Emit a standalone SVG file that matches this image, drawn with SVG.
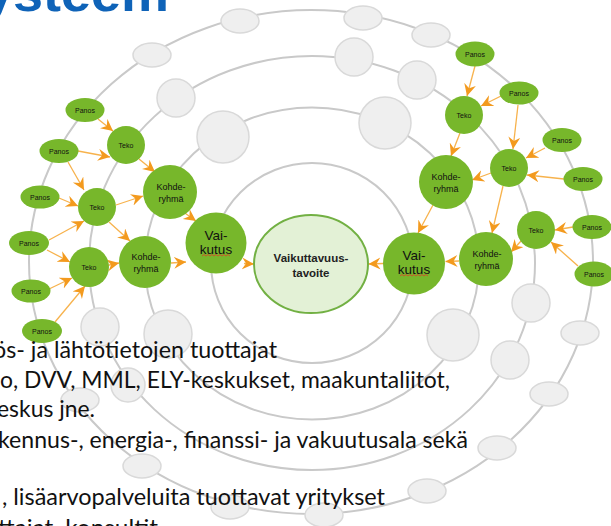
<svg xmlns="http://www.w3.org/2000/svg" width="611" height="526" viewBox="0 0 611 526">
  <defs>
    <style>
      .ring { fill: none; stroke: #c9c9c9; stroke-width: 2; }
      .slot { fill: #efefef; stroke: #d9d9d9; stroke-width: 1.5; }
      .node { fill: #77b72b; }
      .goal { fill: #e3f1d6; stroke: #72b043; stroke-width: 2; }
      .lbl { font-family: "Liberation Sans", Arial, sans-serif; fill: #111; text-anchor: middle; }
      .s7 { font-size: 7px; }
      .s9 { font-size: 9px; }
      .s13 { font-size: 13.5px; }
      .goal-lbl { font-family: "Liberation Sans", Arial, sans-serif; font-weight: bold; font-size: 11.5px; fill: #222; text-anchor: middle; }
      .link { fill: none; stroke: #f7b24c; stroke-width: 1.3; marker-end: url(#chev); }
      .squiggle { fill: none; stroke: #e23a2a; stroke-width: 0.8; }
      .body { font-family: Lato, "Liberation Sans", sans-serif; font-size: 24px; fill: #111; }
      .title { font-family: "Liberation Sans", Arial, sans-serif; font-weight: bold; font-size: 52px; fill: #0f63b8; }
    </style>
    <marker id="chev" markerUnits="userSpaceOnUse" markerWidth="13" markerHeight="13" refX="12" refY="6" orient="auto">
      <path d="M0,0 L12,6 L0,12 L4,6 Z" fill="#f39a1e"/>
    </marker>
  </defs>

  <rect width="611" height="526" fill="#ffffff"/>

  <!-- heading, clipped by the top edge -->
  <text class="title" x="-17" y="11" textLength="186" lengthAdjust="spacingAndGlyphs">ysteem</text>

  <!-- concentric orbits -->
  <g id="orbits">
    <ellipse class="ring" cx="312" cy="263" rx="101" ry="100"/>
    <ellipse class="ring" cx="312" cy="263.5" rx="167" ry="156"/>
    <ellipse class="ring" cx="312" cy="263" rx="223" ry="207"/>
    <ellipse class="ring" cx="311" cy="262" rx="282" ry="252"/>
  </g>

  <!-- empty slots on the orbits -->
  <g id="slots">
    <ellipse class="slot" cx="152" cy="55" rx="19" ry="12"/>
    <ellipse class="slot" cx="240" cy="21" rx="19" ry="12"/>
    <ellipse class="slot" cx="363" cy="18" rx="19" ry="12"/>
    <ellipse class="slot" cx="431" cy="35" rx="19" ry="12"/>
    <ellipse class="slot" cx="580" cy="333" rx="19" ry="12"/>
    <ellipse class="slot" cx="549" cy="394" rx="19" ry="12"/>
    <ellipse class="slot" cx="497" cy="448" rx="19" ry="12"/>
    <ellipse class="slot" cx="427" cy="491" rx="19" ry="12"/>
    <ellipse class="slot" cx="324" cy="515" rx="19" ry="12"/>
    <ellipse class="slot" cx="230" cy="507" rx="19" ry="12"/>
    <ellipse class="slot" cx="142" cy="466" rx="19" ry="12"/>
    <ellipse class="slot" cx="80" cy="400" rx="19" ry="12"/>

    <circle class="slot" cx="176" cy="98" r="19"/>
    <circle class="slot" cx="354" cy="57" r="19"/>
    <circle class="slot" cx="417" cy="80" r="19"/>
    <circle class="slot" cx="531" cy="303" r="19"/>
    <circle class="slot" cx="510" cy="360" r="19"/>
    <circle class="slot" cx="100" cy="327" r="19"/>
    <circle class="slot" cx="128" cy="385" r="17"/>

    <circle class="slot" cx="223" cy="137" r="26"/>
    <circle class="slot" cx="385" cy="123" r="26"/>
    <circle class="slot" cx="168" cy="334" r="24"/>
    <circle class="slot" cx="453" cy="335" r="26"/>
  </g>

  <!-- connectors -->
  <g id="connectors">
    <!-- left cluster -->
    <line class="link" x1="98" y1="119" x2="113" y2="131"/>
    <line class="link" x1="78" y1="151" x2="110" y2="157"/>
    <line class="link" x1="68" y1="162" x2="84" y2="190"/>
    <line class="link" x1="59" y1="198" x2="78" y2="206"/>
    <line class="link" x1="49" y1="240" x2="84" y2="221"/>
    <line class="link" x1="47" y1="250" x2="70" y2="262"/>
    <line class="link" x1="49" y1="289" x2="72" y2="278"/>
    <line class="link" x1="55" y1="322" x2="85" y2="286"/>
    <line class="link" x1="139" y1="159" x2="155" y2="172"/>
    <line class="link" x1="116" y1="205" x2="143" y2="196"/>
    <line class="link" x1="109" y1="222" x2="130" y2="241"/>
    <line class="link" x1="107" y1="265.5" x2="119" y2="263"/>
    <line class="link" x1="182" y1="211" x2="196" y2="221"/>
    <line class="link" x1="171" y1="263" x2="186" y2="262"/>
    <line class="link" x1="244" y1="263.5" x2="254" y2="264"/>
    <!-- right cluster -->
    <line class="link" x1="475" y1="66" x2="467" y2="96"/>
    <line class="link" x1="501" y1="96" x2="481" y2="106"/>
    <line class="link" x1="518" y1="105" x2="513" y2="149"/>
    <line class="link" x1="545" y1="148" x2="526" y2="158"/>
    <line class="link" x1="564" y1="179" x2="527" y2="175"/>
    <line class="link" x1="573" y1="227" x2="555" y2="230"/>
    <line class="link" x1="578" y1="266" x2="551" y2="242"/>
    <line class="link" x1="460" y1="133" x2="451" y2="156"/>
    <line class="link" x1="491" y1="173" x2="472" y2="180"/>
    <line class="link" x1="503" y1="186" x2="492" y2="233"/>
    <line class="link" x1="521" y1="241" x2="511" y2="252"/>
    <line class="link" x1="459" y1="261" x2="445.5" y2="261.5"/>
    <line class="link" x1="433" y1="205" x2="418" y2="233"/>
    <line class="link" x1="383" y1="263.5" x2="368.5" y2="264"/>
  </g>

  <!-- centre -->
  <g id="goal">
    <ellipse class="goal" cx="311" cy="264" rx="57" ry="49"/>
    <text class="goal-lbl" x="311" y="262">Vaikuttavuus-</text>
    <text class="goal-lbl" x="311" y="277">tavoite</text>
  </g>

  <!-- left cluster nodes -->
  <g id="panos-l1"><ellipse class="node" cx="85" cy="110" rx="19.5" ry="12"/><text class="lbl s7" x="85" y="112.5">Panos</text></g>
  <g id="panos-l2"><ellipse class="node" cx="59" cy="151" rx="19.5" ry="12"/><text class="lbl s7" x="59" y="153.5">Panos</text></g>
  <g id="panos-l3"><ellipse class="node" cx="40" cy="197" rx="19.5" ry="11.5"/><text class="lbl s7" x="40" y="199.5">Panos</text></g>
  <g id="panos-l4"><ellipse class="node" cx="29" cy="243" rx="20" ry="12"/><text class="lbl s7" x="29" y="245.5">Panos</text></g>
  <g id="panos-l5"><ellipse class="node" cx="31" cy="291" rx="19.5" ry="11.5"/><text class="lbl s7" x="31" y="293.5">Panos</text></g>
  <g id="panos-l6"><ellipse class="node" cx="42" cy="331" rx="20" ry="12"/><text class="lbl s7" x="42" y="333.5">Panos</text></g>
  <g id="teko-l1"><circle class="node" cx="126" cy="145" r="19"/><text class="lbl s7" x="126" y="147.5">Teko</text></g>
  <g id="teko-l2"><circle class="node" cx="97" cy="207" r="19"/><text class="lbl s7" x="97" y="209.5">Teko</text></g>
  <g id="teko-l3"><circle class="node" cx="89" cy="267" r="20"/><text class="lbl s7" x="89" y="269.5">Teko</text></g>
  <g id="kohde-l1"><circle class="node" cx="170" cy="192" r="27"/><text class="lbl s9" x="171" y="190">Kohde-</text><text class="lbl s9" x="171" y="202">ryhmä</text></g>
  <g id="kohde-l2"><circle class="node" cx="145" cy="262" r="26"/><text class="lbl s9" x="146" y="260">Kohde-</text><text class="lbl s9" x="146" y="272">ryhmä</text></g>
  <g id="vaikutus-l">
    <circle class="node" cx="216" cy="243" r="30.5"/>
    <text class="lbl s13" x="216" y="240">Vai-</text>
    <text class="lbl s13" x="216" y="253.5">kutus</text>
    <path class="squiggle" d="M202,256 L204,254.5 L206,256 L208,254.5 L210,256 L212,254.5 L214,256 L216,254.5 L218,256 L220,254.5 L222,256 L224,254.5 L226,256 L228,254.5 L230,256"/>
  </g>

  <!-- right cluster nodes -->
  <g id="panos-r1"><ellipse class="node" cx="475" cy="54" rx="19.5" ry="12.5"/><text class="lbl s7" x="475" y="56.5">Panos</text></g>
  <g id="panos-r2"><ellipse class="node" cx="519" cy="93" rx="19.5" ry="11.5"/><text class="lbl s7" x="519" y="95.5">Panos</text></g>
  <g id="panos-r3"><ellipse class="node" cx="562" cy="140" rx="19.5" ry="12"/><text class="lbl s7" x="562" y="142.5">Panos</text></g>
  <g id="panos-r4"><ellipse class="node" cx="583" cy="179" rx="19.5" ry="12"/><text class="lbl s7" x="583" y="181.5">Panos</text></g>
  <g id="panos-r5"><ellipse class="node" cx="592" cy="227" rx="19.5" ry="12"/><text class="lbl s7" x="592" y="229.5">Panos</text></g>
  <g id="panos-r6"><ellipse class="node" cx="594" cy="274" rx="19.5" ry="12.5"/><text class="lbl s7" x="594" y="276.5">Panos</text></g>
  <g id="teko-r1"><circle class="node" cx="464" cy="115" r="19"/><text class="lbl s7" x="464" y="117.5">Teko</text></g>
  <g id="teko-r2"><circle class="node" cx="509" cy="168" r="19"/><text class="lbl s7" x="509" y="170.5">Teko</text></g>
  <g id="teko-r3"><circle class="node" cx="536" cy="230" r="19"/><text class="lbl s7" x="536" y="232.5">Teko</text></g>
  <g id="kohde-r1"><circle class="node" cx="446" cy="182" r="27"/><text class="lbl s9" x="446" y="180">Kohde-</text><text class="lbl s9" x="446" y="192">ryhmä</text></g>
  <g id="kohde-r2"><circle class="node" cx="486" cy="259" r="27"/><text class="lbl s9" x="487" y="257">Kohde-</text><text class="lbl s9" x="487" y="269">ryhmä</text></g>
  <g id="vaikutus-r">
    <circle class="node" cx="414" cy="263.5" r="31"/>
    <text class="lbl s13" x="414" y="260">Vai-</text>
    <text class="lbl s13" x="414" y="273.5">kutus</text>
    <path class="squiggle" d="M400,276 L402,274.5 L404,276 L406,274.5 L408,276 L410,274.5 L412,276 L414,274.5 L416,276 L418,274.5 L420,276 L422,274.5 L424,276 L426,274.5 L428,276"/>
  </g>

  <!-- body text running over the lower part -->
  <g id="body-text">
    <text class="body" x="-7" y="358" textLength="284" lengthAdjust="spacingAndGlyphs">ös- ja lähtötietojen tuottajat</text>
    <text class="body" x="0" y="388" textLength="450" lengthAdjust="spacingAndGlyphs">o, DVV, MML, ELY-keskukset, maakuntaliitot,</text>
    <text class="body" x="-3" y="417" textLength="98" lengthAdjust="spacingAndGlyphs">eskus jne.</text>
    <text class="body" x="-2" y="448" textLength="470" lengthAdjust="spacingAndGlyphs">kennus-, energia-, finanssi- ja vakuutusala sekä</text>
    <text class="body" x="2" y="505" textLength="383" lengthAdjust="spacingAndGlyphs">, lisäarvopalveluita tuottavat yritykset</text>
    <text class="body" x="-2" y="536" textLength="160" lengthAdjust="spacingAndGlyphs">ttajat, konsultit</text>
  </g>
</svg>
